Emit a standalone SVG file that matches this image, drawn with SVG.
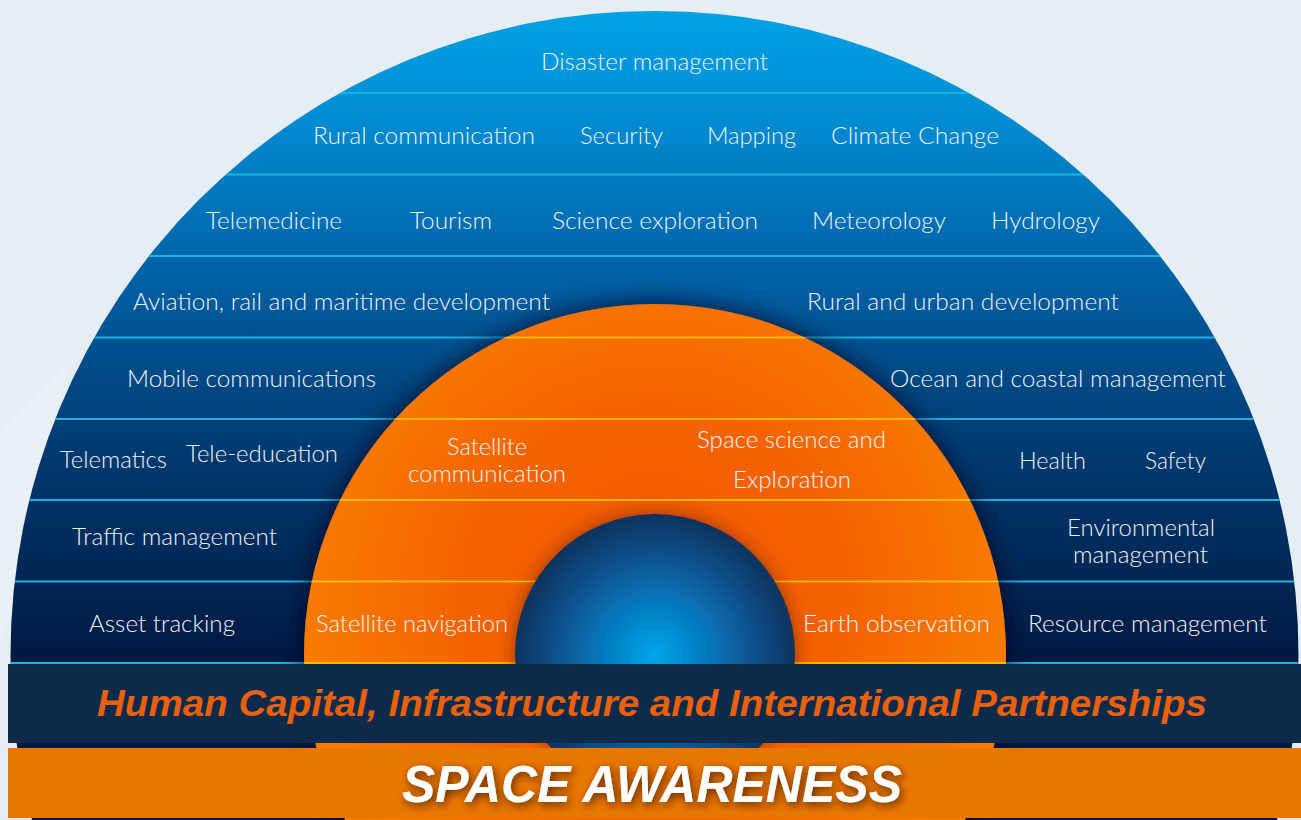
<svg xmlns="http://www.w3.org/2000/svg" width="1301" height="820" viewBox="0 0 1301 820">
  <defs>
    <linearGradient id="domeGrad" x1="0" y1="11" x2="0" y2="663" gradientUnits="userSpaceOnUse">
      <stop offset="0" stop-color="#00a1e5"/>
      <stop offset="0.14" stop-color="#0090d6"/>
      <stop offset="0.28" stop-color="#0077bd"/>
      <stop offset="0.42" stop-color="#005ea2"/>
      <stop offset="0.56" stop-color="#004985"/>
      <stop offset="0.70" stop-color="#00376c"/>
      <stop offset="0.85" stop-color="#002857"/>
      <stop offset="1" stop-color="#001842"/>
    </linearGradient>
    <radialGradient id="orangeGrad" cx="655" cy="600" r="360" gradientUnits="userSpaceOnUse">
      <stop offset="0" stop-color="#f45600"/>
      <stop offset="0.55" stop-color="#f56400"/>
      <stop offset="1" stop-color="#f87c00"/>
    </radialGradient>
    <radialGradient id="sphereGrad" cx="655" cy="655" r="150" gradientUnits="userSpaceOnUse">
      <stop offset="0" stop-color="#00a6e8"/>
      <stop offset="0.35" stop-color="#0679bf"/>
      <stop offset="0.7" stop-color="#0a4c86"/>
      <stop offset="1" stop-color="#0b2c52"/>
    </radialGradient>
    <clipPath id="clipOuter"><circle cx="654.5" cy="655" r="644"/></clipPath>
    <clipPath id="clipOrange"><circle cx="655" cy="655" r="351"/></clipPath>
    <filter id="orangeShadow" x="-20%" y="-20%" width="140%" height="140%">
      <feDropShadow dx="0" dy="0" stdDeviation="12" flood-color="#000c22" flood-opacity="0.85"/>
    </filter>
    <filter id="sphereShadow" x="-30%" y="-30%" width="160%" height="160%">
      <feDropShadow dx="0" dy="0" stdDeviation="9" flood-color="#6a2000" flood-opacity="0.7"/>
    </filter>
    <filter id="titleShadow" x="-10%" y="-40%" width="120%" height="180%">
      <feDropShadow dx="2" dy="3" stdDeviation="4" flood-color="#4a1800" flood-opacity="0.85"/>
    </filter>
    <style>
      .lbl { font-family: Lato, "Noto Sans", "Liberation Sans", sans-serif; font-weight: 300; font-size: 24px; fill: #eef3f8; }
      .cyan { stroke: #19b2e2; stroke-width: 1.8; }
      .yellow { stroke: #ffd000; stroke-width: 1.6; }
      .barText { font-family: "Liberation Sans", Arial, sans-serif; font-weight: bold; font-style: italic; }
    </style>
  </defs>

  <rect id="background" x="0" y="0" width="1301" height="820" fill="#e6eef5"/>
  <polygon points="0,430 70,360 18,600 0,640" fill="#ffffff" opacity="0.12"/>

  <g id="outer-dome">
    <circle cx="654.5" cy="655" r="644" fill="url(#domeGrad)"/>
  </g>

  <g id="connectors">
    <g clip-path="url(#clipOuter)">
      <line class="cyan" x1="0" y1="93" x2="1301" y2="93"/>
      <line class="cyan" x1="0" y1="174.5" x2="1301" y2="174.5"/>
      <line class="cyan" x1="0" y1="256" x2="1301" y2="256"/>
      <line class="cyan" x1="0" y1="337.5" x2="1301" y2="337.5"/>
      <line class="cyan" x1="0" y1="419" x2="1301" y2="419"/>
      <line class="cyan" x1="0" y1="500" x2="1301" y2="500"/>
      <line class="cyan" x1="0" y1="581.5" x2="1301" y2="581.5"/>
      <line class="cyan" x1="0" y1="663" x2="1301" y2="663"/>
    </g>
  </g>

  <g id="orange-dome">
    <circle cx="655" cy="655" r="351" fill="url(#orangeGrad)" filter="url(#orangeShadow)"/>
    <g clip-path="url(#clipOrange)">
      <line class="yellow" x1="0" y1="337.5" x2="1301" y2="337.5"/>
      <line class="yellow" x1="0" y1="419" x2="1301" y2="419"/>
      <line class="yellow" x1="0" y1="500" x2="1301" y2="500"/>
      <line class="yellow" x1="0" y1="581.5" x2="1301" y2="581.5"/>
      <line class="yellow" x1="0" y1="663" x2="1301" y2="663"/>
    </g>
  </g>

  <g id="sphere">
    <circle cx="655" cy="654" r="140" fill="url(#sphereGrad)" filter="url(#sphereShadow)"/>
  </g>

  <g id="outer-labels">
    <text id="disaster" class="lbl" x="541" y="70" textLength="227" lengthAdjust="spacingAndGlyphs">Disaster management</text>
    <text id="rural-comm" class="lbl" x="313" y="144" textLength="222" lengthAdjust="spacingAndGlyphs">Rural communication</text>
    <text id="security" class="lbl" x="580" y="144" textLength="83" lengthAdjust="spacingAndGlyphs">Security</text>
    <text id="mapping" class="lbl" x="707" y="144" textLength="89" lengthAdjust="spacingAndGlyphs">Mapping</text>
    <text id="climate" class="lbl" x="831" y="144" textLength="168" lengthAdjust="spacingAndGlyphs">Climate Change</text>
    <text id="telemedicine" class="lbl" x="206" y="229" textLength="136" lengthAdjust="spacingAndGlyphs">Telemedicine</text>
    <text id="tourism" class="lbl" x="410" y="229" textLength="82" lengthAdjust="spacingAndGlyphs">Tourism</text>
    <text id="science-exp" class="lbl" x="552" y="229" textLength="206" lengthAdjust="spacingAndGlyphs">Science exploration</text>
    <text id="meteorology" class="lbl" x="812" y="229" textLength="134" lengthAdjust="spacingAndGlyphs">Meteorology</text>
    <text id="hydrology" class="lbl" x="991" y="229" textLength="109" lengthAdjust="spacingAndGlyphs">Hydrology</text>
    <text id="aviation" class="lbl" x="133" y="310" textLength="417" lengthAdjust="spacingAndGlyphs">Aviation, rail and maritime development</text>
    <text id="rural-urban" class="lbl" x="807" y="310" textLength="312" lengthAdjust="spacingAndGlyphs">Rural and urban development</text>
    <text id="mobile" class="lbl" x="127" y="387" textLength="249" lengthAdjust="spacingAndGlyphs">Mobile communications</text>
    <text id="ocean" class="lbl" x="890" y="387" textLength="336" lengthAdjust="spacingAndGlyphs">Ocean and coastal management</text>
    <text id="telematics" class="lbl" x="60" y="468" textLength="107" lengthAdjust="spacingAndGlyphs">Telematics</text>
    <text id="tele-education" class="lbl" x="186" y="462" textLength="152" lengthAdjust="spacingAndGlyphs">Tele-education</text>
    <text id="health" class="lbl" x="1019" y="469" textLength="67" lengthAdjust="spacingAndGlyphs">Health</text>
    <text id="safety" class="lbl" x="1145" y="469" textLength="61" lengthAdjust="spacingAndGlyphs">Safety</text>
    <text id="traffic" class="lbl" x="72" y="545" textLength="205" lengthAdjust="spacingAndGlyphs">Traffic management</text>
    <g id="environmental">
      <text class="lbl" x="1067" y="536" textLength="148" lengthAdjust="spacingAndGlyphs">Environmental</text>
      <text class="lbl" x="1073" y="563" textLength="135" lengthAdjust="spacingAndGlyphs">management</text>
    </g>
    <text id="asset" class="lbl" x="89" y="632" textLength="146" lengthAdjust="spacingAndGlyphs">Asset tracking</text>
    <text id="resource" class="lbl" x="1028" y="632" textLength="239" lengthAdjust="spacingAndGlyphs">Resource management</text>
  </g>

  <g id="orange-labels">
    <g id="sat-comm">
      <text class="lbl" x="447" y="455" textLength="80" lengthAdjust="spacingAndGlyphs">Satellite</text>
      <text class="lbl" x="408" y="482" textLength="158" lengthAdjust="spacingAndGlyphs">communication</text>
    </g>
    <g id="space-science">
      <text class="lbl" x="697" y="448" textLength="189" lengthAdjust="spacingAndGlyphs">Space science and</text>
      <text class="lbl" x="733" y="488" textLength="118" lengthAdjust="spacingAndGlyphs">Exploration</text>
    </g>
    <text id="sat-nav" class="lbl" x="316" y="632" textLength="192" lengthAdjust="spacingAndGlyphs">Satellite navigation</text>
    <text id="earth-obs" class="lbl" x="803" y="632" textLength="187" lengthAdjust="spacingAndGlyphs">Earth observation</text>
  </g>

  <g id="human-capital-bar">
    <rect x="8" y="664" width="1293" height="79" fill="#0e2a4a"/>
    <text class="barText" x="97" y="716" font-size="36" fill="#e8600c" textLength="1110" lengthAdjust="spacingAndGlyphs">Human Capital, Infrastructure and International Partnerships</text>
  </g>

  <g id="space-awareness-bar">
    <rect x="8" y="748" width="1293" height="70" fill="#e87700"/>
    <text class="barText" x="402" y="802" font-size="52" fill="#ffffff" filter="url(#titleShadow)" textLength="500" lengthAdjust="spacingAndGlyphs">SPACE AWARENESS</text>
  </g>
</svg>
